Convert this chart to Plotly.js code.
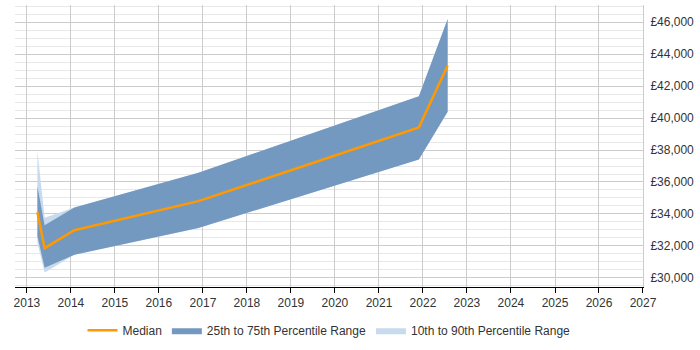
<!DOCTYPE html>
<html>
<head>
<meta charset="utf-8">
<script src="https://cdn.plot.ly/plotly-3.0.1.min.js"></script>
<style>
  html, body { margin: 0; padding: 0; background: #fff; }
  #chart { width: 700px; height: 350px; }
</style>
</head>
<body>
<div id="chart"></div>
<script>
// Dates of the observations
const dates = ["2013-03-29", "2013-05-28", "2014-01-30", "2016-11-24", "2021-11-28", "2022-07-25"];
// Salary percentiles (GBP)
const p10    = [32200, 30330, 31450, 33120, 37410, 40400];
const p25    = [32600, 30640, 31450, 33120, 37410, 40400];
const median = [34100, 31860, 32980, 34800, 39415, 43290];
const p75    = [35740, 33290, 34400, 36580, 41360, 46200];
const p90    = [37930, 33760, 34400, 36580, 41360, 46200];
// Axis ticks
const yearTicks = ["2013","2014","2015","2016","2017","2018","2019","2020","2021","2022","2023","2024","2025","2026","2027"];

const darkFill = "#7499c1";
const lightFill = "#c8daed";
const orange = "#ff9900";

const traces = [
  { x: dates, y: p10, type: "scatter", mode: "lines", line: {width: 0, color: lightFill},
    showlegend: false, hoverinfo: "skip" },
  { x: dates, y: p90, type: "scatter", mode: "lines", line: {width: 0, color: lightFill},
    fill: "tonexty", fillcolor: lightFill, name: "10th to 90th Percentile Range", legendrank: 3, hoverinfo: "skip" },
  { x: dates, y: p25, type: "scatter", mode: "lines", line: {width: 0, color: darkFill},
    showlegend: false, hoverinfo: "skip" },
  { x: dates, y: p75, type: "scatter", mode: "lines", line: {width: 0, color: darkFill},
    fill: "tonexty", fillcolor: darkFill, name: "25th to 75th Percentile Range", legendrank: 2, hoverinfo: "skip" },
  { x: dates, y: median, type: "scatter", mode: "lines", line: {width: 2.5, color: orange},
    name: "Median", legendrank: 1, hoverinfo: "skip" }
];

const layout = {
  width: 700, height: 350,
  margin: {l: 15, r: 57, t: 5, b: 57},
  paper_bgcolor: "#fff", plot_bgcolor: "#fff",
  font: {family: "Liberation Sans, Arial, sans-serif", size: 12, color: "#333"},
  showlegend: true,
  legend: {orientation: "h", x: 0.5, xanchor: "center", y: -0.153, yanchor: "middle",
           font: {size: 12, color: "#333"}, itemwidth: 30, traceorder: "normal"},
  xaxis: {
    type: "date",
    range: ["2012-09-24", "2027-01-01 06:00"],
    tickmode: "array",
    tickvals: yearTicks.map(y => y + "-01-01"),
    ticktext: yearTicks,
    showgrid: true, gridcolor: "#cccccc", gridwidth: 1,
    showline: true, linecolor: "#000", linewidth: 1,
    ticks: "outside", ticklen: 5, tickcolor: "#000",
    zeroline: false, fixedrange: true
  },
  yaxis: {
    side: "right",
    range: [29430, 47073],
    tick0: 30000, dtick: 2000,
    tickprefix: "£", tickformat: ",d",
    showgrid: true, gridcolor: "#cccccc", gridwidth: 1,
    minor: {dtick: 500, showgrid: true, gridcolor: "#e8e8e8", gridwidth: 1},
    showline: true, linecolor: "#cccccc",
    ticks: "", ticklabelstandoff: 4, zeroline: false, fixedrange: true
  },
  hovermode: false
};

Plotly.newPlot("chart", traces, layout, {displayModeBar: false, staticPlot: true});
</script>
</body>
</html>
